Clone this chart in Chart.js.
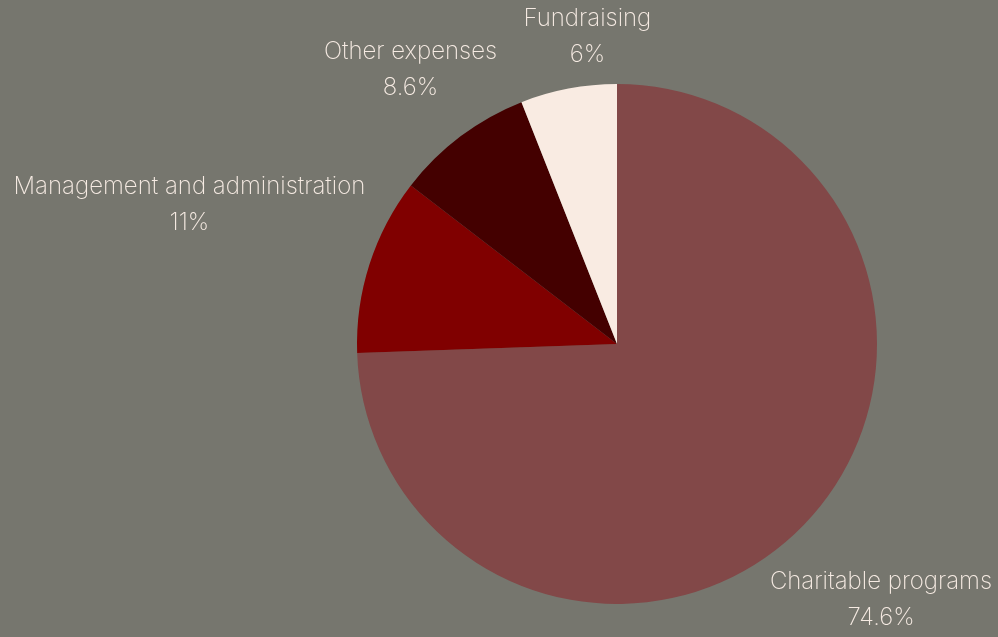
<!DOCTYPE html>
<html>
<head>
<meta charset="utf-8">
<script src="https://cdn.jsdelivr.net/npm/chart.js@4/dist/chart.umd.min.js"></script>
<style>
  html, body { margin: 0; padding: 0; background: #76766e; }
  #wrap { width: 998px; height: 637px; }
</style>
</head>
<body>
<div id="wrap"><canvas id="pieChart"></canvas></div>
<script>
// data
var categories = ["Charitable programs", "Management and administration", "Other expenses", "Fundraising"];
var shares = [74.6, 11, 8.6, 6];
var shareLabels = ["74.6%", "11%", "8.6%", "6%"];
var sliceColors = ["#824848", "#800000", "#440000", "#f9ebe2"];

// label placement: offset from the slice's outer mid point
var labelOffsets = [[77, 75], [-180, -60], [-50, -67], [19, -52]];

var outsideLabels = {
  id: "outsideLabels",
  afterDatasetsDraw: function (chart) {
    var ctx = chart.ctx;
    var meta = chart.getDatasetMeta(0);
    ctx.save();
    ctx.font = "200 24px Inter";
    ctx.fillStyle = "#f6ebe3";
    ctx.textAlign = "center";
    ctx.textBaseline = "middle";
    meta.data.forEach(function (arc, i) {
      var mid = (arc.startAngle + arc.endAngle) / 2;
      var px = arc.x + Math.cos(mid) * arc.outerRadius + labelOffsets[i][0];
      var py = arc.y + Math.sin(mid) * arc.outerRadius + labelOffsets[i][1];
      ctx.fillText(categories[i], px, py - 18);
      ctx.fillText(shareLabels[i], px, py + 18);
    });
    ctx.restore();
  }
};

var ctxP = document.getElementById("pieChart").getContext("2d");
var myPieChart = new Chart(ctxP, {
  type: "pie",
  data: {
    labels: categories,
    datasets: [
      {
        data: shares,
        backgroundColor: sliceColors,
        borderWidth: 0,
      },
    ],
  },
  options: {
    responsive: true,
    maintainAspectRatio: false,
    animation: false,
    layout: { padding: { left: 357, right: 121, top: 84, bottom: 33 } },
    plugins: {
      legend: { display: false },
      tooltip: { enabled: false },
    },
  },
  plugins: [outsideLabels],
});
</script>
</body>
</html>
